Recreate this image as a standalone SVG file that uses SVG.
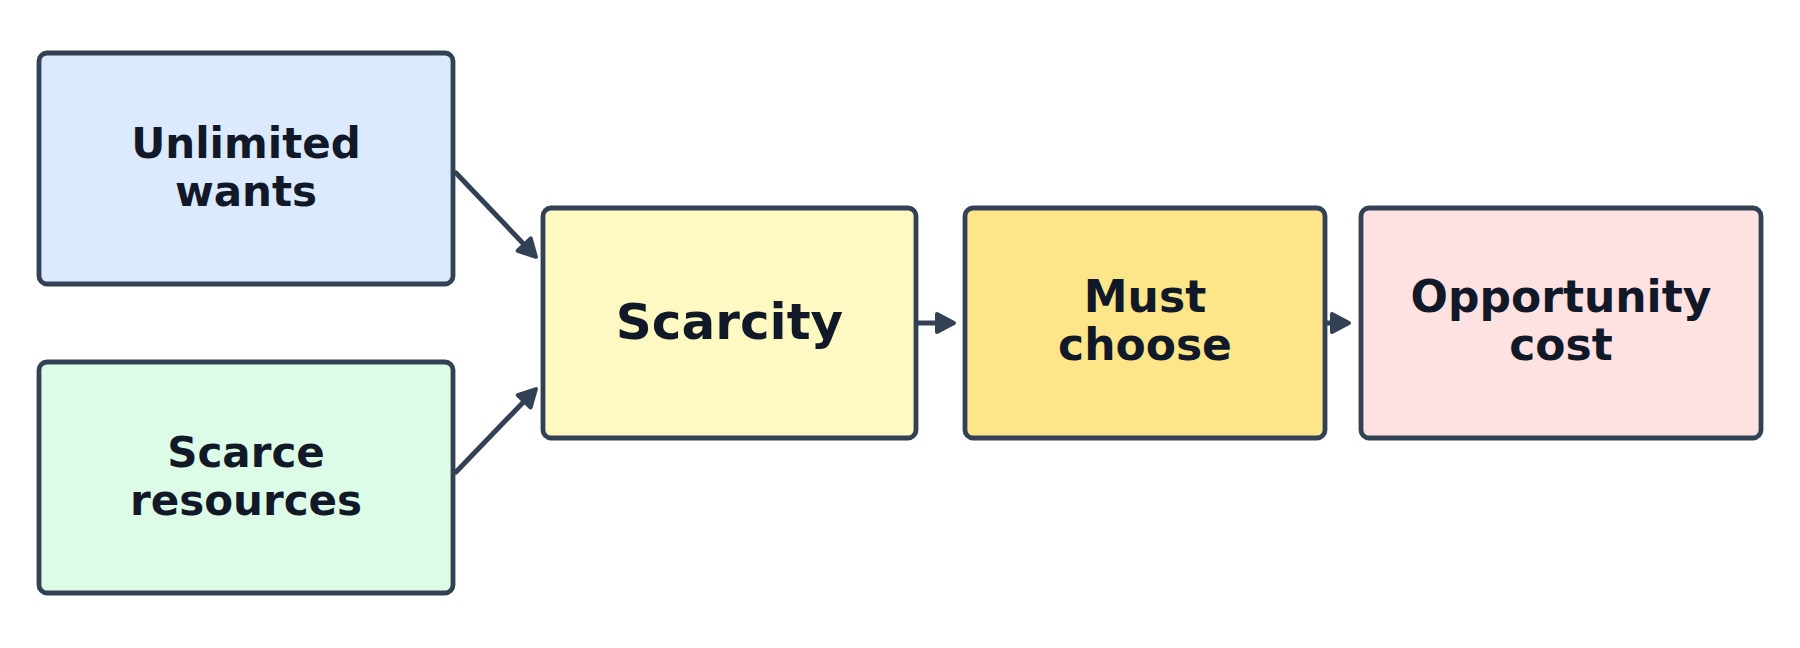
<svg xmlns="http://www.w3.org/2000/svg" width="1800" height="648" viewBox="0 0 1800 648">
<style>
.box{stroke:#334155;stroke-width:4.8}
.t{font-family:"DejaVu Sans",sans-serif;font-weight:bold;fill:#111827;text-anchor:middle}
.n{font-size:42px}
.m{font-size:44px}
.big{font-size:50px}
.edge{stroke:#334155;stroke-width:5;fill:none;stroke-linecap:round;marker-end:url(#arr)}
</style>
<defs>
<marker id="arr" viewBox="0 0 24 24" markerUnits="userSpaceOnUse" markerWidth="24" markerHeight="24" refX="13" refY="12" orient="auto">
<path d="M4,3 L21,12 L4,21 Z" fill="#334155" stroke="#334155" stroke-width="4" stroke-linejoin="round"/>
</marker>
</defs>
<rect width="1800" height="648" fill="#ffffff"/>
<g id="connectors">
<line class="edge" x1="456" y1="173" x2="530.4" y2="251.1"/>
<line class="edge" x1="456" y1="472" x2="530.4" y2="394.8"/>
<line class="edge" x1="919" y1="323" x2="946" y2="323"/>
<line class="edge" x1="1327" y1="323" x2="1341" y2="323"/>
</g>
<g id="unlimited-wants">
<rect class="box" x="39" y="53" width="414" height="231" rx="8" fill="#dbeafe"/>
<text class="t n" x="246" y="158">Unlimited</text>
<text class="t n" x="246" y="206">wants</text>
</g>
<g id="scarce-resources">
<rect class="box" x="39" y="362" width="414" height="231" rx="8" fill="#dcfce7"/>
<text class="t n" x="246" y="467">Scarce</text>
<text class="t n" x="246" y="515">resources</text>
</g>
<g id="scarcity">
<rect class="box" x="543" y="208" width="373" height="230" rx="8" fill="#fef9c3"/>
<text class="t big" x="729.5" y="339">Scarcity</text>
</g>
<g id="must-choose">
<rect class="box" x="965" y="208" width="360" height="230" rx="8" fill="#fde68a"/>
<text class="t m" x="1145" y="312">Must</text>
<text class="t m" x="1145" y="360">choose</text>
</g>
<g id="opportunity-cost">
<rect class="box" x="1361" y="208" width="400" height="230" rx="8" fill="#fee2e2"/>
<text class="t m" x="1561" y="312">Opportunity</text>
<text class="t m" x="1561" y="360">cost</text>
</g>
</svg>
